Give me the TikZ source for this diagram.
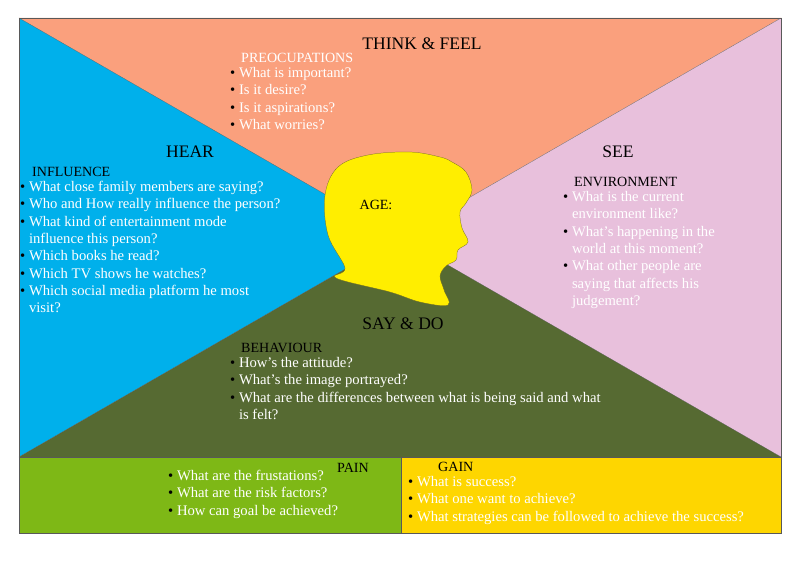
\documentclass[tikz,border=0pt]{standalone}
\usepackage{fontspec}
\setmainfont{Liberation Serif}
\usetikzlibrary{positioning}
\definecolor{thinkc}{RGB}{250,160,125}
\definecolor{hearc}{RGB}{0,176,235}
\definecolor{seec}{RGB}{232,192,220}
\definecolor{sayc}{RGB}{86,106,50}
\definecolor{painc}{RGB}{126,184,22}
\definecolor{gainc}{RGB}{254,214,0}
\definecolor{headc}{RGB}{255,238,0}
\newcommand{\itm}[1]{\textcolor{black}{\textbullet}~#1}
\newcommand{\ind}{\hphantom{\textbullet~}}
\tikzset{
	titlestyle/.style={font=\fontsize{15}{16}\selectfont},
	headstyle/.style={font=\fontsize{12}{14}\selectfont,anchor=west,inner sep=0},
	liststyle/.style={font=\fontsize{12.5}{14.8}\selectfont,text=white,align=left,anchor=north west,inner sep=0}
}
\begin{document}
\begin{tikzpicture}[x=0.03cm,y=-0.03cm]
	\useasboundingbox (0,0) rectangle (800,566);
	\fill[white] (0,0) rectangle (800,566);
	\coordinate (tl) at (19,18);
	\coordinate (tr) at (781,18);
	\coordinate (bl) at (19,457);
	\coordinate (br) at (781,457);
	\coordinate (c) at (400,237.5);
	\fill[thinkc] (tl)--(tr)--(c)--cycle;
	\fill[hearc] (tl)--(c)--(bl)--cycle;
	\fill[seec] (tr)--(br)--(c)--cycle;
	\fill[sayc] (bl)--(c)--(br)--cycle;
	\fill[painc] (19,457) rectangle (401,533);
	\fill[gainc] (401,457) rectangle (781,533);
	\draw[gray!70!black,very thin] (tl)--(br) (tr)--(bl);
	\draw[gray!70!black] (19,18) rectangle (781,533) (19,457)--(781,457) (401,457)--(401,533);
	% head
	\fill[headc,draw=olive!60!black,very thin] plot[smooth cycle,tension=0.6] coordinates {
		(345,268) (328,235) (325,195) (338,167) (368,155) (410,152) (440,157)
		(452,162) (466,172) (472,190) (466,203) (460,212) (462,228)
		(468,242) (458,250) (456,260) (446,266) (440,276) (444,290)
		(448,305) (420,302) (390,292) (336,278)};
	\node (age) at (376,205) {\fontsize{12}{14}\selectfont AGE:};
	% titles
	\node[titlestyle] (think) at (422,44) {THINK \& FEEL};
	\node[titlestyle] (hear) at (190,152) {HEAR};
	\node[titlestyle] (see) at (618,152) {SEE};
	\node[titlestyle] (say) at (403,324) {SAY \& DO};
	% think
	\node[headstyle,text=white] (preo) at (241,58) {PREOCUPATIONS};
	\node[liststyle] (thinkl) at (230,67) {\itm{What is important?}\\ \itm{Is it desire?}\\ \itm{Is it aspirations?}\\ \itm{What worries?}};
	% hear
	\node[headstyle] (infl) at (32,172) {INFLUENCE};
	\node[liststyle] (hearl) at (20,181) {\itm{What close family members are saying?}\\ \itm{Who and How really influence the person?}\\ \itm{What kind of entertainment mode}\\ \ind influence this person?\\ \itm{Which books he read?}\\ \itm{Which TV shows he watches?}\\ \itm{Which social media platform he most}\\ \ind visit?};
	% see
	\node[headstyle] (env) at (574,182) {ENVIRONMENT};
	\node[liststyle] (seel) at (563,191) {\itm{What is the current}\\ \ind environment like?\\ \itm{What's happening in the}\\ \ind world at this moment?\\ \itm{What other people are}\\ \ind saying that affects his\\ \ind judgement?};
	% say
	\node[headstyle] (beh) at (241,348) {BEHAVIOUR};
	\node[liststyle] (sayl) at (230,357) {\itm{How's the attitude?}\\ \itm{What's the image portrayed?}\\ \itm{What are the differences between what is being said and what}\\ \ind is felt?};
	% pain and gain
	\node[headstyle] (pain) at (337,468) {PAIN};
	\node[liststyle] (painl) at (168,470) {\itm{What are the frustations?}\\ \itm{What are the risk factors?}\\ \itm{How can goal be achieved?}};
	\node[headstyle] (gain) at (438,467) {GAIN};
	\node[liststyle] (gainl) at (408,476) {\itm{What is success?}\\ \itm{What one want to achieve?}\\ \itm{What strategies can be followed to achieve the success?}};
\end{tikzpicture}
\end{document}
